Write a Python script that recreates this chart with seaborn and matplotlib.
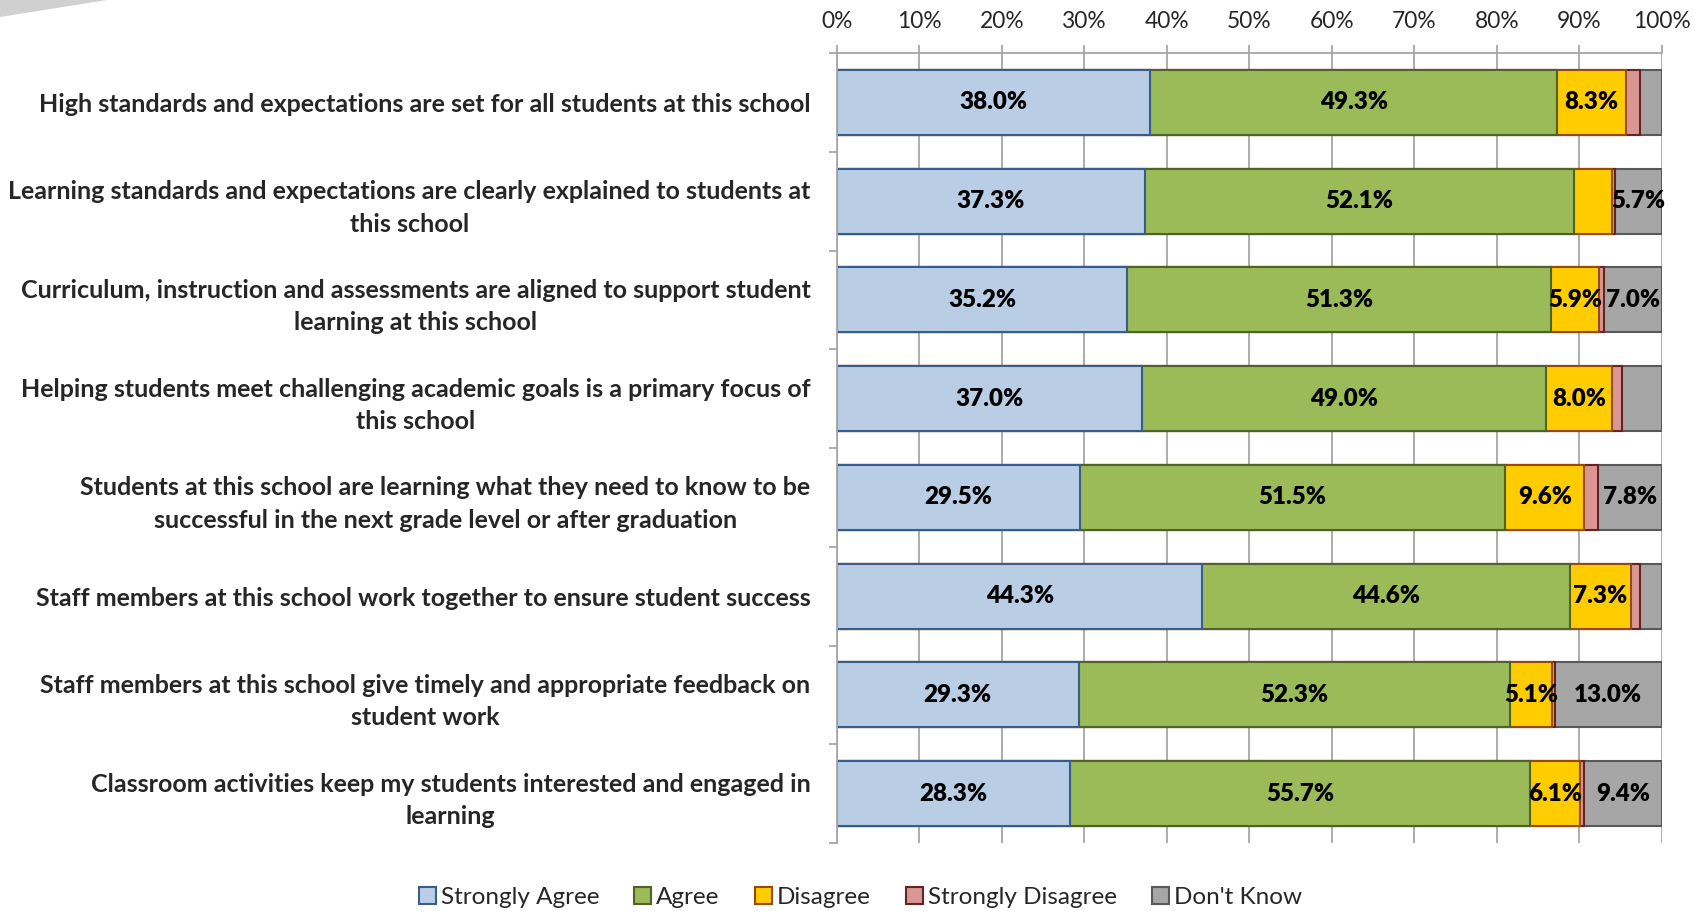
import matplotlib.pyplot as plt
import numpy as np
import pandas as pd
import seaborn as sns
from matplotlib.patches import Patch, Polygon
from matplotlib.ticker import PercentFormatter

questions = [
    "High standards and expectations are set for all students at this school",
    "Learning standards and expectations are clearly explained to students at\nthis school",
    "Curriculum, instruction and assessments are aligned to support student\nlearning at this school",
    "Helping students meet challenging academic goals is a primary focus of\nthis school",
    "Students at this school are learning what they need to know to be\nsuccessful in the next grade level or after graduation",
    "Staff members at this school work together to ensure student success",
    "Staff members at this school give timely and appropriate feedback on\nstudent work",
    "Classroom activities keep my students interested and engaged in\nlearning",
]
responses = ["Strongly Agree", "Agree", "Disagree", "Strongly Disagree", "Don't Know"]
strongly_agree = [38.0, 37.3, 35.2, 37.0, 29.5, 44.3, 29.3, 28.3]
agree = [49.3, 52.1, 51.3, 49.0, 51.5, 44.6, 52.3, 55.7]
disagree = [8.3, 4.6, 5.9, 8.0, 9.6, 7.3, 5.1, 6.1]
strongly_disagree = [1.7, 0.3, 0.6, 1.1, 1.6, 1.1, 0.3, 0.5]
dont_know = [2.7, 5.7, 7.0, 4.9, 7.8, 2.7, 13.0, 9.4]

fills = ["#B9CDE5", "#9BBB59", "#FFCC00", "#D99694", "#A6A6A6"]
edges = ["#385D8A", "#4F6228", "#984807", "#632523", "#595959"]
grid_col = "#A6A6A6"

df = pd.DataFrame({"question": questions,
                   "Strongly Agree": strongly_agree,
                   "Agree": agree,
                   "Disagree": disagree,
                   "Strongly Disagree": strongly_disagree,
                   "Don't Know": dont_know})
cum = df[responses].cumsum(axis=1)

sns.set_theme(style="white")
plt.rcParams["font.family"] = ["Lato", "DejaVu Sans"]

fig = plt.figure(figsize=(17.07, 9.11), dpi=100)
ax = fig.add_axes([0.4903, 0.0746, 0.4833, 0.8672])

# stacked bars: draw cumulative totals back to front
for i in range(len(responses) - 1, -1, -1):
    sns.barplot(x=cum[responses[i]], y=df["question"], orient="h",
                color=fills[i], edgecolor=edges[i], linewidth=1.5,
                width=0.66, saturation=1, errorbar=None, ax=ax, zorder=2)

# data labels (only the wider segments are labelled)
for r in range(len(df)):
    for i, resp in enumerate(responses):
        v = df.loc[r, resp]
        if v >= 5:
            ax.text(cum.loc[r, resp] - v / 2, r, f"{v:.1f}%", ha="center", va="center",
                    fontsize=17.4, fontweight="heavy", color="black", zorder=5)

ax.set_xlim(0, 100)
ax.set_ylim(len(df) - 0.5, -0.5)
ax.set_xlabel("")
ax.set_ylabel("")
ax.xaxis.set_major_locator(plt.MultipleLocator(10))
ax.xaxis.set_major_formatter(PercentFormatter(decimals=0))
ax.xaxis.tick_top()
ax.xaxis.grid(True, color=grid_col, lw=1.3)
ax.set_axisbelow(True)

ax.set_yticks(np.arange(len(df) + 1) - 0.5, minor=True)
ax.tick_params(axis="x", which="major", top=True, bottom=False, direction="out",
               length=6, width=1.3, color=grid_col, labelsize=16.4, pad=9)
ax.tick_params(axis="y", which="major", left=True, length=0, pad=19, labelsize=18)
ax.tick_params(axis="y", which="minor", left=True, direction="out", length=6,
               width=1.3, color=grid_col)
for lbl in ax.get_yticklabels():
    lbl.set_fontweight("bold")
    lbl.set_multialignment("center")
    lbl.set_linespacing(1.5)

for s in ["right", "bottom"]:
    ax.spines[s].set_visible(False)
for s in ["top", "left"]:
    ax.spines[s].set_color(grid_col)
    ax.spines[s].set_linewidth(1.3)

handles = [Patch(facecolor=f, edgecolor=e, linewidth=1.5, label=r)
           for f, e, r in zip(fills, edges, responses)]
fig.legend(handles=handles, loc="center", bbox_to_anchor=(0.504, 0.015), ncol=5,
           frameon=False, fontsize=17.5, handlelength=0.7, handleheight=0.7,
           handletextpad=0.2, columnspacing=1.45)

# grey corner decoration
fig.patches.append(Polygon([(0, 1), (107 / 1707, 1), (0, 1 - 17 / 911)], closed=True,
                           transform=fig.transFigure, facecolor="#D0D0D0",
                           edgecolor="none", figure=fig))

fig.savefig("out.png", dpi=100)
